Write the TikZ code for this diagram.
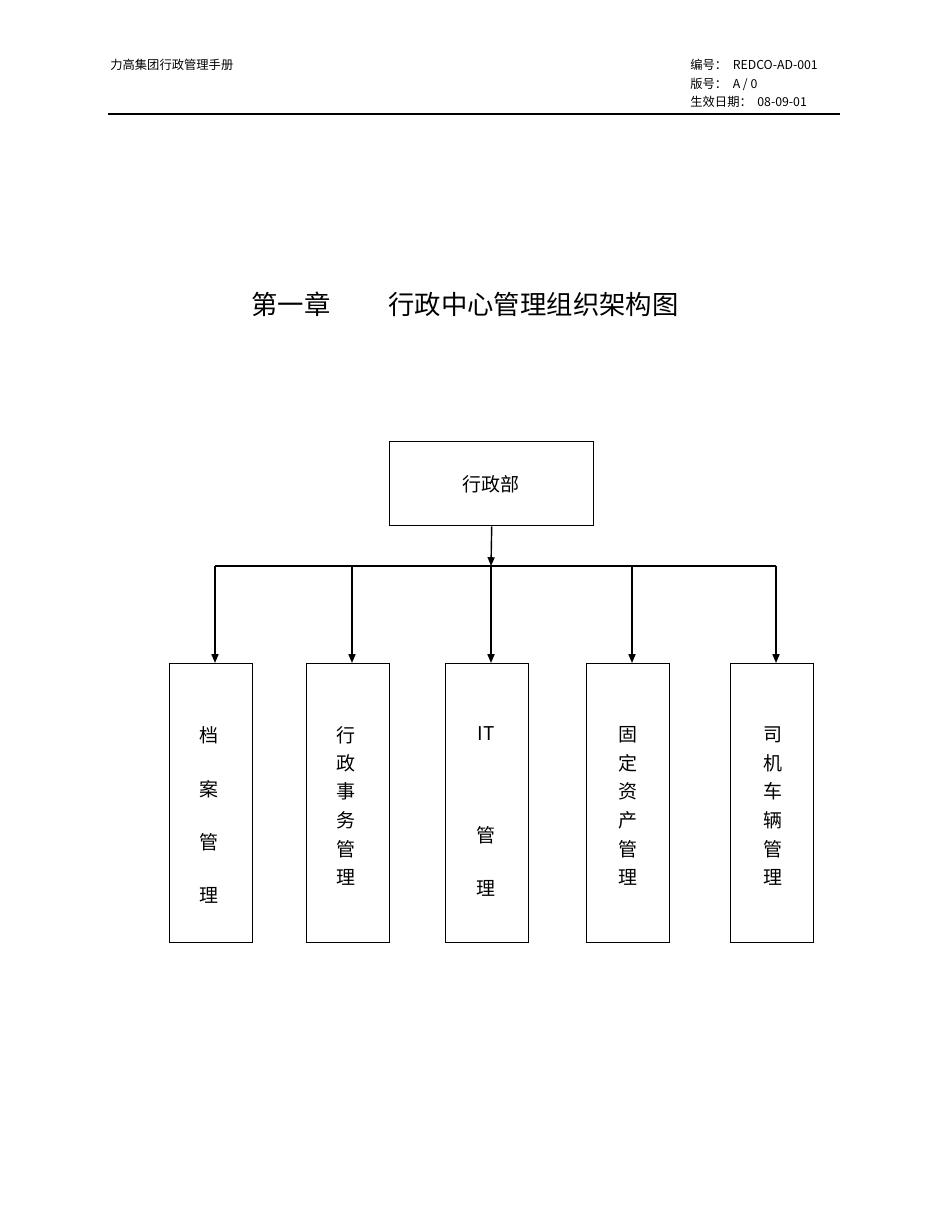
\documentclass[tikz,border=0pt]{standalone}
\usepackage{fontspec}
\setmainfont{Noto Sans CJK SC}
\usetikzlibrary{arrows.meta}
\begin{document}
\begin{tikzpicture}[x=0.02cm,y=-0.02cm,
  box/.style={draw,line width=0.8pt,inner sep=0,anchor=north west},
  lbl/.style={font=\fontsize{10.8}{12}\selectfont},
  hdr/.style={font=\fontsize{7}{8}\selectfont,anchor=west,inner sep=0},
  arr/.style={-{Triangle[length=5pt,width=4pt]},line width=0.8pt},
  conn/.style={line width=0.8pt}]
\useasboundingbox (0,0) rectangle (950,1230);
\node[hdr] (h1) at (110,65) {力高集团行政管理手册};
\node[hdr] (h2) at (690,65) {编号：\ \ REDCO-AD-001};
\node[hdr] (h3) at (690,84) {版号：\ \ A / 0};
\node[hdr] (h4) at (690,102) {生效日期：\ \ 08-09-01};
\coordinate (la) at (108,114); \coordinate (lb) at (840,114);
\draw[line width=0.6pt] (la) -- (lb);
\node[font=\fontsize{15}{18}\selectfont] (title) at (465,304) {第一章\hspace{2.2em}行政中心管理组织架构图};
\node[box,minimum width=204*0.02cm,minimum height=84*0.02cm] (top) at (389,441) {};
\node[lbl] (toplbl) at (491,484) {行政部};
\coordinate (j) at (491,566);
\draw[arr] (top.south) -- (j);
\foreach \x/\n in {169/a,306/b,445/c,586/d,730/e}{
  \node[box,minimum width=83*0.02cm,minimum height=279*0.02cm] (\n) at (\x,663) {};
}
\coordinate (l) at (215,566); \coordinate (r) at (776,566);
\draw[conn] (l) -- (r);
\coordinate (ta) at (215,663); \coordinate (tb) at (352,663); \coordinate (tc) at (491,663);
\coordinate (td) at (632,663); \coordinate (te) at (776,663);
\coordinate (sa) at (215,566); \coordinate (sb) at (352,566); \coordinate (sc) at (491,566);
\coordinate (sd) at (632,566); \coordinate (se) at (776,566);
\foreach \n in {a,b,c,d,e}{\draw[arr] (s\n) -- (t\n);}
\foreach \t/\y [count=\i] in {档/735,案/789,管/842,理/895}{\node[lbl] (a\i) at (209,\y) {\t};}
\foreach \t/\y [count=\i] in {行/735,政/763,事/791,务/820,管/849,理/877}{\node[lbl] (b\i) at (346,\y) {\t};}
\foreach \t/\y [count=\i] in {IT/734,管/835,理/888}{\node[lbl] (c\i) at (486,\y) {\t};}
\foreach \t/\y [count=\i] in {固/735,定/763,资/791,产/820,管/849,理/877}{\node[lbl] (d\i) at (628,\y) {\t};}
\foreach \t/\y [count=\i] in {司/735,机/763,车/791,辆/820,管/849,理/877}{\node[lbl] (e\i) at (773,\y) {\t};}
\end{tikzpicture}
\end{document}
